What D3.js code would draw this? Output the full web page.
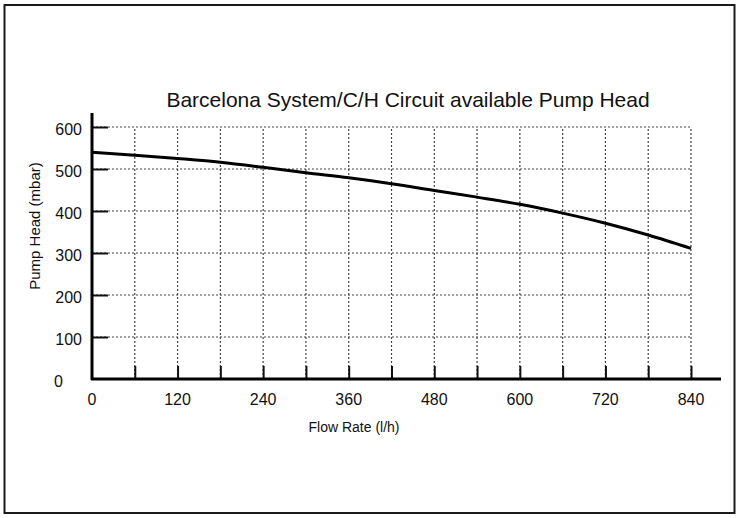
<!DOCTYPE html>
<html>
<head>
<meta charset="utf-8">
<script src="https://cdn.jsdelivr.net/npm/d3@7"></script>
<style>
  html, body { margin: 0; padding: 0; background: #fff; }
  svg { display: block; }
  text { font-family: 'Liberation Sans', Arial, sans-serif; fill: #111; }
</style>
</head>
<body>
<div id="myPlot"></div>
<script>
// pump curve
const flowRates = [0, 60, 120, 180, 240, 300, 360, 420, 480, 540, 600, 660, 720, 780, 840];
const pumpHead = [540, 533, 525, 516, 504, 491, 479, 465, 449, 433, 416, 395, 371, 343, 311];
const xTickLabels = [0, 120, 240, 360, 480, 600, 720, 840];
const xGridValues = [60, 120, 180, 240, 300, 360, 420, 480, 540, 600, 660, 720, 780, 840];
const yTickLabels = [0, 100, 200, 300, 400, 500, 600];
const chartTitle = 'Barcelona System/C/H Circuit available Pump Head';

const width = 739;
const height = 518;
const margin = {top: 127, right: 48, bottom: 139, left: 92};

const svg = d3.select('#myPlot')
  .append('svg')
    .attr('width', width)
    .attr('height', height);

// outer frame
svg.append('rect')
  .attr('x', 4.5)
  .attr('y', 5)
  .attr('width', 730)
  .attr('height', 508)
  .attr('fill', 'none')
  .attr('stroke', '#1a1a1a')
  .attr('stroke-width', 2);

const x = d3.scaleLinear()
  .domain([0, 840])
  .range([margin.left, width - margin.right]);

const y = d3.scaleLinear()
  .domain([0, 600])
  .range([height - margin.bottom, margin.top]);

// dotted grid
svg.append('g')
  .selectAll('line')
  .data(yTickLabels.filter(d => d > 0))
  .enter()
  .append('line')
    .attr('x1', x(0))
    .attr('x2', x(840))
    .attr('y1', d => y(d))
    .attr('y2', d => y(d))
    .attr('stroke', '#444')
    .attr('stroke-width', 1.2)
    .attr('stroke-dasharray', '2,2');

svg.append('g')
  .selectAll('line')
  .data(xGridValues)
  .enter()
  .append('line')
    .attr('x1', d => x(d))
    .attr('x2', d => x(d))
    .attr('y1', y(0))
    .attr('y2', y(600))
    .attr('stroke', '#444')
    .attr('stroke-width', 1.2)
    .attr('stroke-dasharray', '2,2');

// Y axis: inward solid ticks, labels on the left
const yAxis = svg.append('g')
  .attr('transform', 'translate(' + x(0) + ',0)')
  .call(d3.axisRight(y).tickValues(yTickLabels.filter(d => d > 0)).tickSize(16).tickFormat(''));
yAxis.select('.domain').remove();
yAxis.selectAll('.tick line').attr('stroke', '#111').attr('stroke-width', 2);

svg.append('g')
  .selectAll('text')
  .data(yTickLabels)
  .enter()
  .append('text')
    .attr('x', d => d === 0 ? x(0) - 29 : x(0) - 10)
    .attr('y', d => y(d) + 8)
    .attr('text-anchor', 'end')
    .style('font-size', '16px')
    .text(d => d);

// X axis: inward solid ticks
const xAxis = svg.append('g')
  .attr('transform', 'translate(0,' + y(0) + ')')
  .call(d3.axisTop(x).tickValues(xGridValues).tickSize(13).tickFormat(''));
xAxis.select('.domain').remove();
xAxis.selectAll('.tick line').attr('stroke', '#111').attr('stroke-width', 2);

svg.append('g')
  .selectAll('text')
  .data(xTickLabels)
  .enter()
  .append('text')
    .attr('x', d => x(d))
    .attr('y', y(0) + 26)
    .attr('text-anchor', 'middle')
    .style('font-size', '16px')
    .text(d => d);

// heavy axis lines
svg.append('line')
  .attr('x1', x(0))
  .attr('x2', x(0))
  .attr('y1', y(0) + 1)
  .attr('y2', y(600) - 14)
  .attr('stroke', '#000')
  .attr('stroke-width', 3);

svg.append('line')
  .attr('x1', x(0) - 1)
  .attr('x2', x(840) + 30)
  .attr('y1', y(0))
  .attr('y2', y(0))
  .attr('stroke', '#000')
  .attr('stroke-width', 3);

// curve
const line = d3.line()
  .x((d, i) => x(flowRates[i]))
  .y(d => y(d))
  .curve(d3.curveMonotoneX);

svg.append('path')
  .datum(pumpHead)
  .attr('d', line)
  .attr('fill', 'none')
  .attr('stroke', '#000')
  .attr('stroke-width', 3);

// titles
svg.append('text')
  .attr('x', 408)
  .attr('y', 107)
  .attr('text-anchor', 'middle')
  .style('font-size', '21px')
  .text(chartTitle);

svg.append('text')
  .attr('x', 354)
  .attr('y', 432)
  .attr('text-anchor', 'middle')
  .style('font-size', '14px')
  .text('Flow Rate (l/h)');

svg.append('text')
  .attr('transform', 'translate(40,226)rotate(-90)')
  .attr('text-anchor', 'middle')
  .style('font-size', '15px')
  .text('Pump Head (mbar)');
</script>
</body>
</html>
